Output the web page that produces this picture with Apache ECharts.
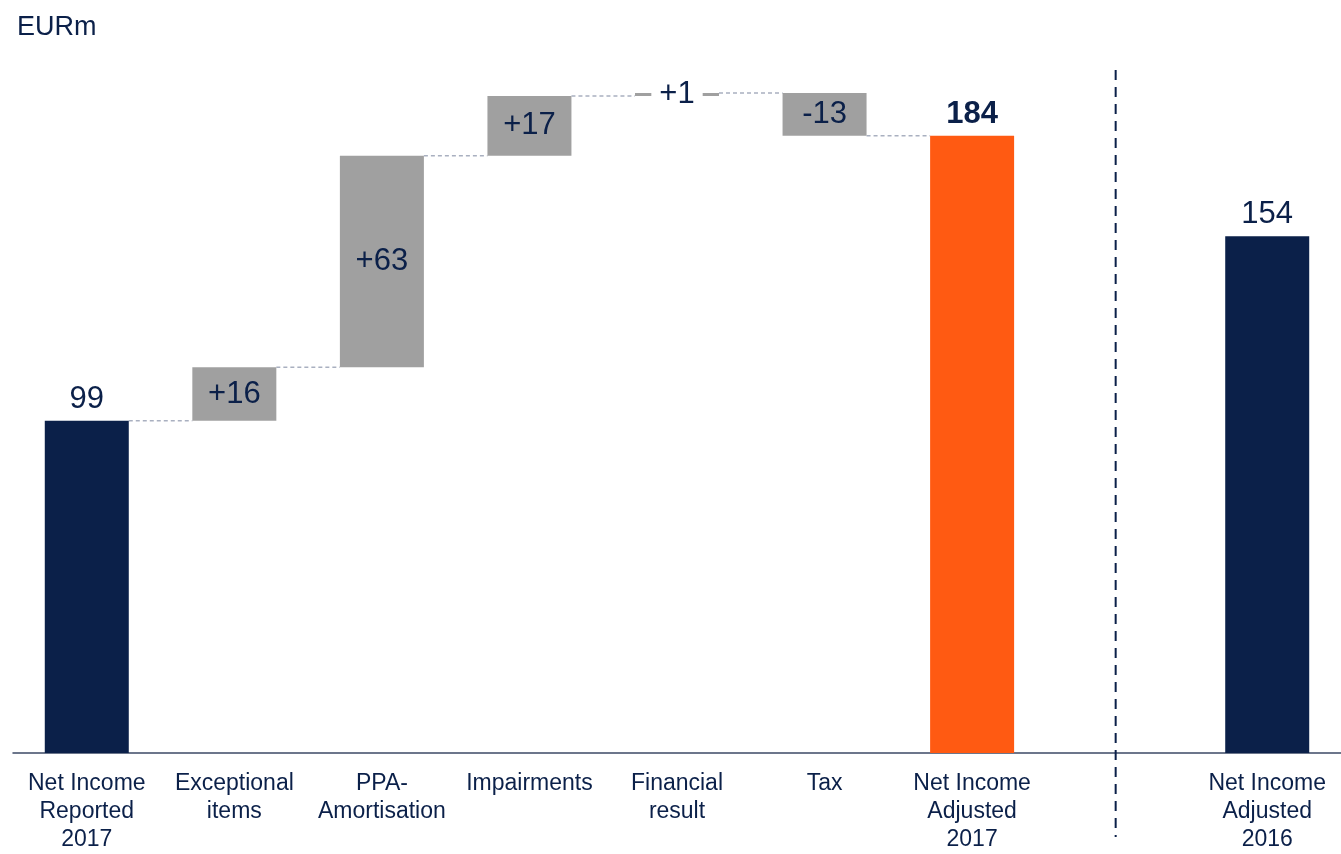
<!DOCTYPE html>
<html>
<head>
<meta charset="utf-8">
<script src="https://cdn.jsdelivr.net/npm/echarts@6/dist/echarts.min.js"></script>
<style>
  html, body { margin: 0; padding: 0; background: #fff; }
  #chart { width: 1341px; height: 854px; }
</style>
</head>
<body>
<div id="chart"></div>
<script>
// categories of the bridge (empty slot = separator position)
const categories = ['Net Income\nReported\n2017', 'Exceptional\nitems', 'PPA-\nAmortisation', 'Impairments',
  'Financial\nresult', 'Tax', 'Net Income\nAdjusted\n2017', '', 'Net Income\nAdjusted\n2016'];
// values (EURm)
const values = [99, 16, 63, 17.8, 0.9, -12.7, 184, null, 154];
const valueLabels = ['99', '+16', '+63', '+17', '+1', '-13', '184', '', '154'];
// total = bar from zero, delta = floating step, gap = empty slot
const barKinds = ['total', 'delta', 'delta', 'delta', 'delta', 'delta', 'total', 'gap', 'total'];

const NAVY = '#0b2049';
const GREY = '#a0a0a0';
const ORANGE = '#ff5a12';

// build floating bars
let running = 0;
const bases = [], heights = [], levels = [];
for (let i = 0; i < values.length; i++) {
    const v = values[i];
    if (barKinds[i] === 'gap') { bases.push('-'); heights.push('-'); levels.push(null); continue; }
    if (barKinds[i] === 'total') {
        bases.push(0); heights.push(v); running = v;
    } else {
        if (v >= 0) { bases.push(running); heights.push(v); }
        else { bases.push(running + v); heights.push(-v); }
        running += v;
    }
    levels.push(running);
}
// connector level = where each step ends
const connectorData = [];
for (let i = 0; i < values.length - 1; i++) {
    if (levels[i] != null && levels[i + 1] != null) connectorData.push([i, levels[i]]);
}

const barData = heights.map((h, i) => {
    if (h === '-') return '-';
    const total = barKinds[i] === 'total';
    const item = {
        value: h,
        itemStyle: { color: total ? (i === 6 ? ORANGE : NAVY) : GREY },
        label: {
            show: true,
            formatter: valueLabels[i],
            position: total ? 'top' : 'inside',
            distance: 6,
            fontWeight: i === 6 ? 'bold' : 'normal'
        }
    };
    if (i === 4) {
        item.label.backgroundColor = '#fff';
        item.label.padding = [0, 8];
    }
    return item;
});

const chart = echarts.init(document.getElementById('chart'));
chart.setOption({
    animation: false,
    title: {
        text: 'EURm',
        left: 12, top: 9,
        textStyle: { color: NAVY, fontSize: 27, fontWeight: 'normal', fontFamily: 'Liberation Sans, Arial' }
    },
    grid: { left: 13, width: 1332, top: 82, bottom: 97, containLabel: false },
    xAxis: {
        type: 'category',
        data: categories,
        axisTick: { show: false },
        axisLine: { lineStyle: { color: '#3c4a66', width: 1.5 } },
        axisLabel: {
            interval: 0, color: NAVY, fontSize: 23, lineHeight: 28, margin: 17,
            fontFamily: 'Liberation Sans, Arial'
        }
    },
    yAxis: { type: 'value', min: 0, max: 200, show: false, splitLine: { show: false } },
    series: [
        {
            type: 'bar', stack: 'wf', barWidth: 84, silent: true,
            itemStyle: { color: 'transparent' },
            data: bases
        },
        {
            type: 'bar', stack: 'wf', barWidth: 84,
            label: { color: NAVY, fontSize: 31, fontFamily: 'Liberation Sans, Arial' },
            data: barData
        },
        {
            // dashed connectors between steps
            type: 'custom',
            data: connectorData,
            z: 1,
            renderItem: function (params, api) {
                const i = api.value(0), lv = api.value(1);
                const p1 = api.coord([i, lv]);
                const p2 = api.coord([i + 1, lv]);
                const half = 42;
                return {
                    type: 'line',
                    shape: { x1: p1[0] + half, y1: p1[1], x2: p2[0] - half, y2: p2[1] },
                    style: { stroke: '#a9b0c0', lineWidth: 1.5, lineDash: [4, 3] }
                };
            }
        },
        {
            // vertical dashed separator in the empty slot
            type: 'custom',
            data: [[7, 0]],
            clip: false,
            renderItem: function (params, api) {
                const bottom = api.coord([api.value(0), 0]);
                const top = api.coord([api.value(0), 200]);
                const x = bottom[0] - 4;
                return {
                    type: 'line',
                    shape: { x1: x, y1: top[1] - 12, x2: x, y2: bottom[1] + 84 },
                    style: { stroke: NAVY, lineWidth: 2, lineDash: [10, 7] }
                };
            }
        }
    ]
});
</script>
</body>
</html>
